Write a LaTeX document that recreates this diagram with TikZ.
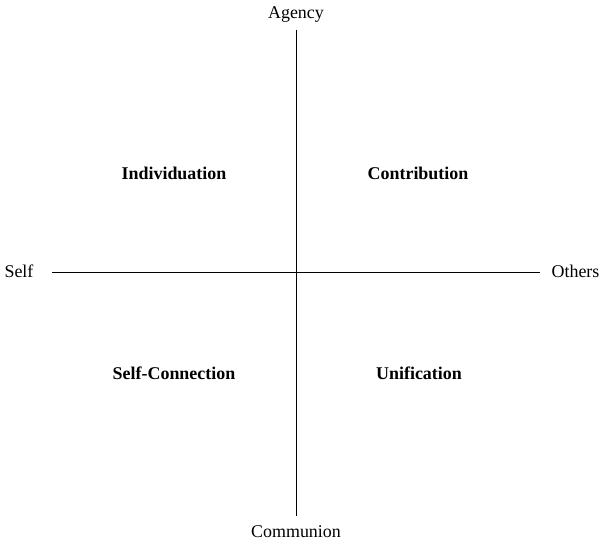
\documentclass[tikz,border=0pt]{standalone}
\usepackage{fontspec}
\setmainfont{Liberation Serif}
\begin{document}
\begin{tikzpicture}[x=1bp,y=-1bp,
  axislabel/.style={anchor=base,inner sep=0pt,font=\fontsize{18}{21}\selectfont},
  quadlabel/.style={anchor=base,inner sep=0pt,font=\fontsize{18}{21}\selectfont\bfseries},
  axisline/.style={line width=0.9bp,black}]
  \useasboundingbox (0,0) rectangle (599,540);
  % axis end points
  \coordinate (top) at (296.5,30);
  \coordinate (bottom) at (296.5,516);
  \coordinate (left) at (52,272.5);
  \coordinate (right) at (540,272.5);
  \draw[axisline] (top) -- (bottom);
  \draw[axisline] (left) -- (right);
  % axis labels
  \node[axislabel] (agency) at (296,19) {Agency};
  \node[axislabel] (communion) at (296,537) {Communion};
  \node[axislabel] (self) at (19,277) {Self};
  \node[axislabel] (others) at (575.5,277) {Others};
  % quadrant labels
  \node[quadlabel] (individuation) at (174,180) {Individuation};
  \node[quadlabel] (contribution) at (418,180) {Contribution};
  \node[quadlabel] (selfconnection) at (174,379) {Self-Connection};
  \node[quadlabel] (unification) at (419,379) {Unification};
\end{tikzpicture}
\end{document}
